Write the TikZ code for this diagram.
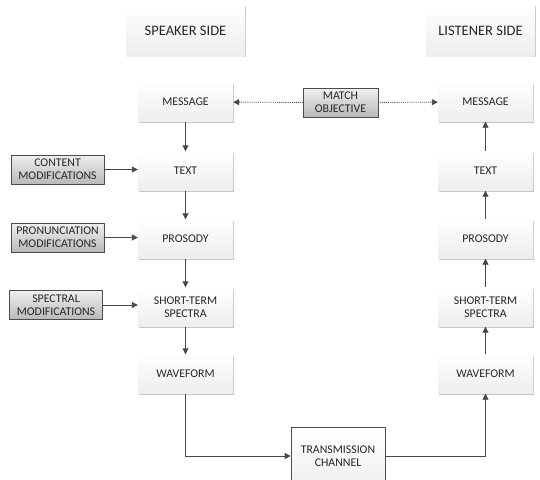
\documentclass[tikz,border=0pt]{standalone}
\usepackage{fontspec}
\setmainfont{Carlito}
\usetikzlibrary{arrows.meta,shadows}

\begin{document}
\begin{tikzpicture}[x=1pt,y=-1pt,
  stage/.style={minimum width=95pt,minimum height=39pt,align=center,inner sep=1pt,
    top color=white,bottom color=gray!14,text=black!85,font=\fontsize{11.8}{13.5}\selectfont,
    drop shadow={shadow xshift=1.2pt,shadow yshift=-1.2pt,fill=black!22,opacity=1}},
  header/.style={stage,minimum width=119pt,minimum height=51pt,font=\fontsize{14.5}{16}\selectfont},
  modbox/.style={draw=gray!60!black,line width=0.8pt,minimum width=93pt,minimum height=29pt,
    align=center,inner sep=1pt,top color=gray!12,bottom color=gray!55,text=black!85,
    font=\fontsize{11.8}{13}\selectfont},
  channel/.style={draw=gray!60!black,line width=0.7pt,minimum width=94pt,minimum height=58pt,
    align=center,inner sep=1pt,top color=white,bottom color=gray!12,text=black!85,
    font=\fontsize{11.8}{13.5}\selectfont},
  flow/.style={draw=black!72,line width=0.9pt,-{Triangle[length=6pt,width=6pt]}},
  dotflow/.style={flow,densely dotted}]
\useasboundingbox[fill=white] (0,0) rectangle (540,479);
%headers
\node[header] (spk) at (185.5,30.5) {SPEAKER SIDE};
\node[header,minimum width=109pt] (lst) at (480.5,30.5) {LISTENER SIDE};
%speaker column
\node[stage] (msgL) at (185.5,102) {MESSAGE};
\node[stage] (textL) at (185.5,171) {TEXT};
\node[stage] (prosL) at (185.5,239) {PROSODY};
\node[stage] (specL) at (185.5,307) {SHORT-TERM\\SPECTRA};
\node[stage] (waveL) at (185.5,374) {WAVEFORM};
%listener column
\node[stage] (msgR) at (485.5,102) {MESSAGE};
\node[stage] (textR) at (485.5,171) {TEXT};
\node[stage] (prosR) at (485.5,239) {PROSODY};
\node[stage] (specR) at (485.5,307) {SHORT-TERM\\SPECTRA};
\node[stage] (waveR) at (485.5,374) {WAVEFORM};
%modifications
\node[modbox] (cont) at (57.5,169.5) {CONTENT\\MODIFICATIONS};
\node[modbox] (pron) at (57.5,237.5) {PRONUNCIATION\\MODIFICATIONS};
\node[modbox] (spec) at (56,305) {SPECTRAL\\MODIFICATIONS};
\node[modbox,minimum width=75pt] (match) at (340.5,102.5) {MATCH\\OBJECTIVE};
\node[channel] (trans) at (338,456) {TRANSMISSION\\CHANNEL};
%arrows
\draw[flow] (msgL) -- (textL);
\draw[flow] (textL) -- (prosL);
\draw[flow] (prosL) -- (specL);
\draw[flow] (specL) -- (waveL);
\draw[flow] (waveR) -- (specR);
\draw[flow] (specR) -- (prosR);
\draw[flow] (prosR) -- (textR);
\draw[flow] (textR) -- (msgR);
\draw[flow] (cont) -- (cont -| textL.west);
\draw[flow] (pron) -- (pron -| prosL.west);
\draw[flow] (spec) -- (spec -| specL.west);
\draw[dotflow] (match) -- (msgL);
\draw[dotflow] (match) -- (msgR);
\draw[flow] (waveL) |- (trans);
\draw[flow] (trans) -| (waveR);
\end{tikzpicture}
\end{document}
